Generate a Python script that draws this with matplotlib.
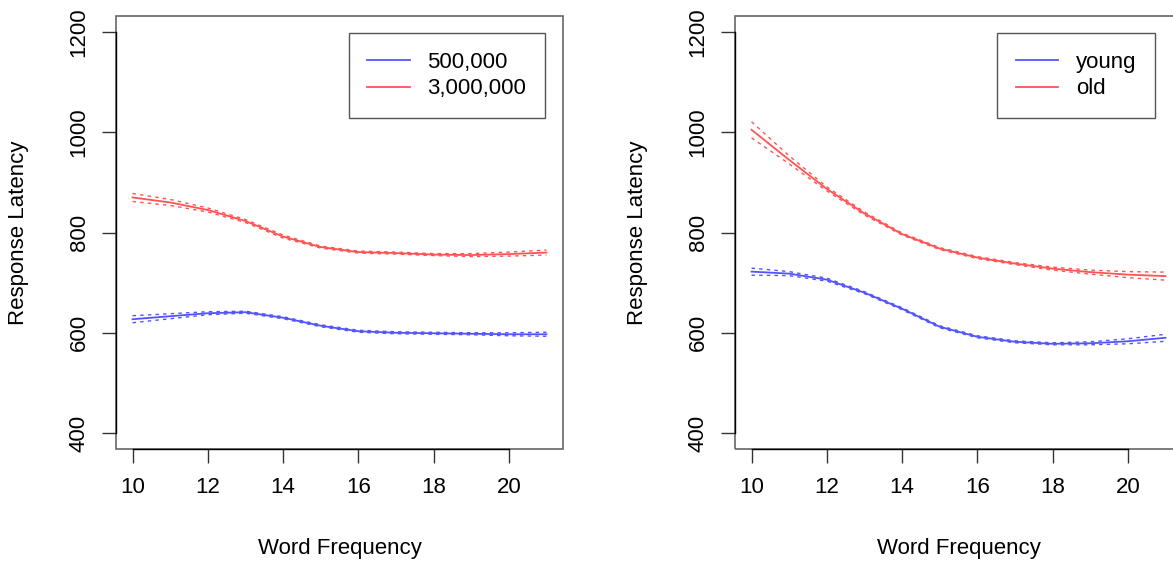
import numpy as np
import matplotlib.pyplot as plt
from matplotlib.patches import Rectangle

# values (word frequency vs. response latency)
freq = [10, 11, 12, 13, 14, 15, 16, 17, 18, 19, 20, 21]

# left panel: corpus size
left_labels = ["500,000", "3,000,000"]
left_small = [627, 633, 639, 641, 630, 614, 603, 600, 599, 598, 597, 597]
left_small_se = [7, 5, 3, 2, 2, 2, 2, 2, 2, 2, 3, 4]
left_large = [870, 860, 845, 823, 792, 771, 761, 759, 756, 755, 757, 760]
left_large_se = [8, 6, 4, 3, 3, 2, 2, 2, 2, 3, 4, 5]

# right panel: age group
right_labels = ["young", "old"]
right_young = [722, 718, 706, 680, 648, 612, 592, 582, 578, 579, 583, 590]
right_young_se = [7, 4, 3, 2, 2, 2, 2, 2, 2, 3, 5, 7]
right_old = [1005, 945, 887, 838, 797, 768, 750, 738, 728, 721, 716, 713]
right_old_se = [16, 8, 4, 3, 2, 2, 2, 2, 3, 4, 6, 8]

x_ticks = [10, 12, 14, 16, 18, 20]
y_ticks = [400, 600, 800, 1000, 1200]

blue = (0.33, 0.33, 1.0)
red = (1.0, 0.33, 0.33)

plt.rcParams['font.family'] = ['Liberation Sans', 'DejaVu Sans']
plt.rcParams['font.size'] = 16

fig = plt.figure(figsize=(11.73, 5.61), dpi=100)
ax1 = fig.add_axes([0.0989, 0.1996, 0.3811, 0.7718])
ax2 = fig.add_axes([0.6266, 0.1996, 0.3811, 0.7718])


def draw_panel(ax, series, labels, legend_anchor):
    x = np.array(freq)
    for (y, se), col, lab in zip(series, [blue, red], labels):
        y = np.array(y)
        se = np.array(se)
        ax.plot(x, y, color=col, lw=1.3, label=lab)
        ax.plot(x, y + se, color=col, lw=1.0, dashes=(2.5, 3))
        ax.plot(x, y - se, color=col, lw=1.0, dashes=(2.5, 3))

    ax.set_xlim(9.56, 21.44)
    ax.set_ylim(368, 1232)
    ax.set_xticks(x_ticks)
    ax.set_yticks(y_ticks)

    # R style: box plus axis lines that only span the ticks
    for s in ["top", "right"]:
        ax.spines[s].set_visible(False)
    ax.spines["left"].set_bounds(400, 1200)
    ax.spines["bottom"].set_bounds(10, 20)
    for s in ["left", "bottom"]:
        ax.spines[s].set_color("black")
        ax.spines[s].set_linewidth(1.0)
    ax.add_patch(Rectangle((0, 0), 1, 1, transform=ax.transAxes, fill=False,
                           edgecolor="#666666", lw=1.2, clip_on=False))

    ax.tick_params(direction="out", length=10, width=1, color="#333333")
    ax.tick_params(axis="x", pad=10)
    ax.tick_params(axis="y", pad=9, labelrotation=90)
    for t in ax.get_yticklabels():
        t.set_va("center")

    ax.set_xlabel("Word Frequency")
    ax.set_ylabel("Response Latency")
    ax.xaxis.set_label_coords(0.5, -0.205)
    ax.yaxis.set_label_coords(-0.195, 0.5)

    leg = ax.legend(loc="upper right", bbox_to_anchor=legend_anchor,
                    fancybox=False, framealpha=1, edgecolor="#555555",
                    handlelength=1.9, handletextpad=0.8, borderpad=0.85,
                    labelspacing=0.25, borderaxespad=0)
    leg.get_frame().set_linewidth(1.0)


draw_panel(ax1, [(left_small, left_small_se), (left_large, left_large_se)],
           left_labels, (0.96, 0.961))
draw_panel(ax2, [(right_young, right_young_se), (right_old, right_old_se)],
           right_labels, (0.94, 0.961))

fig.savefig("out.png", dpi=100)
